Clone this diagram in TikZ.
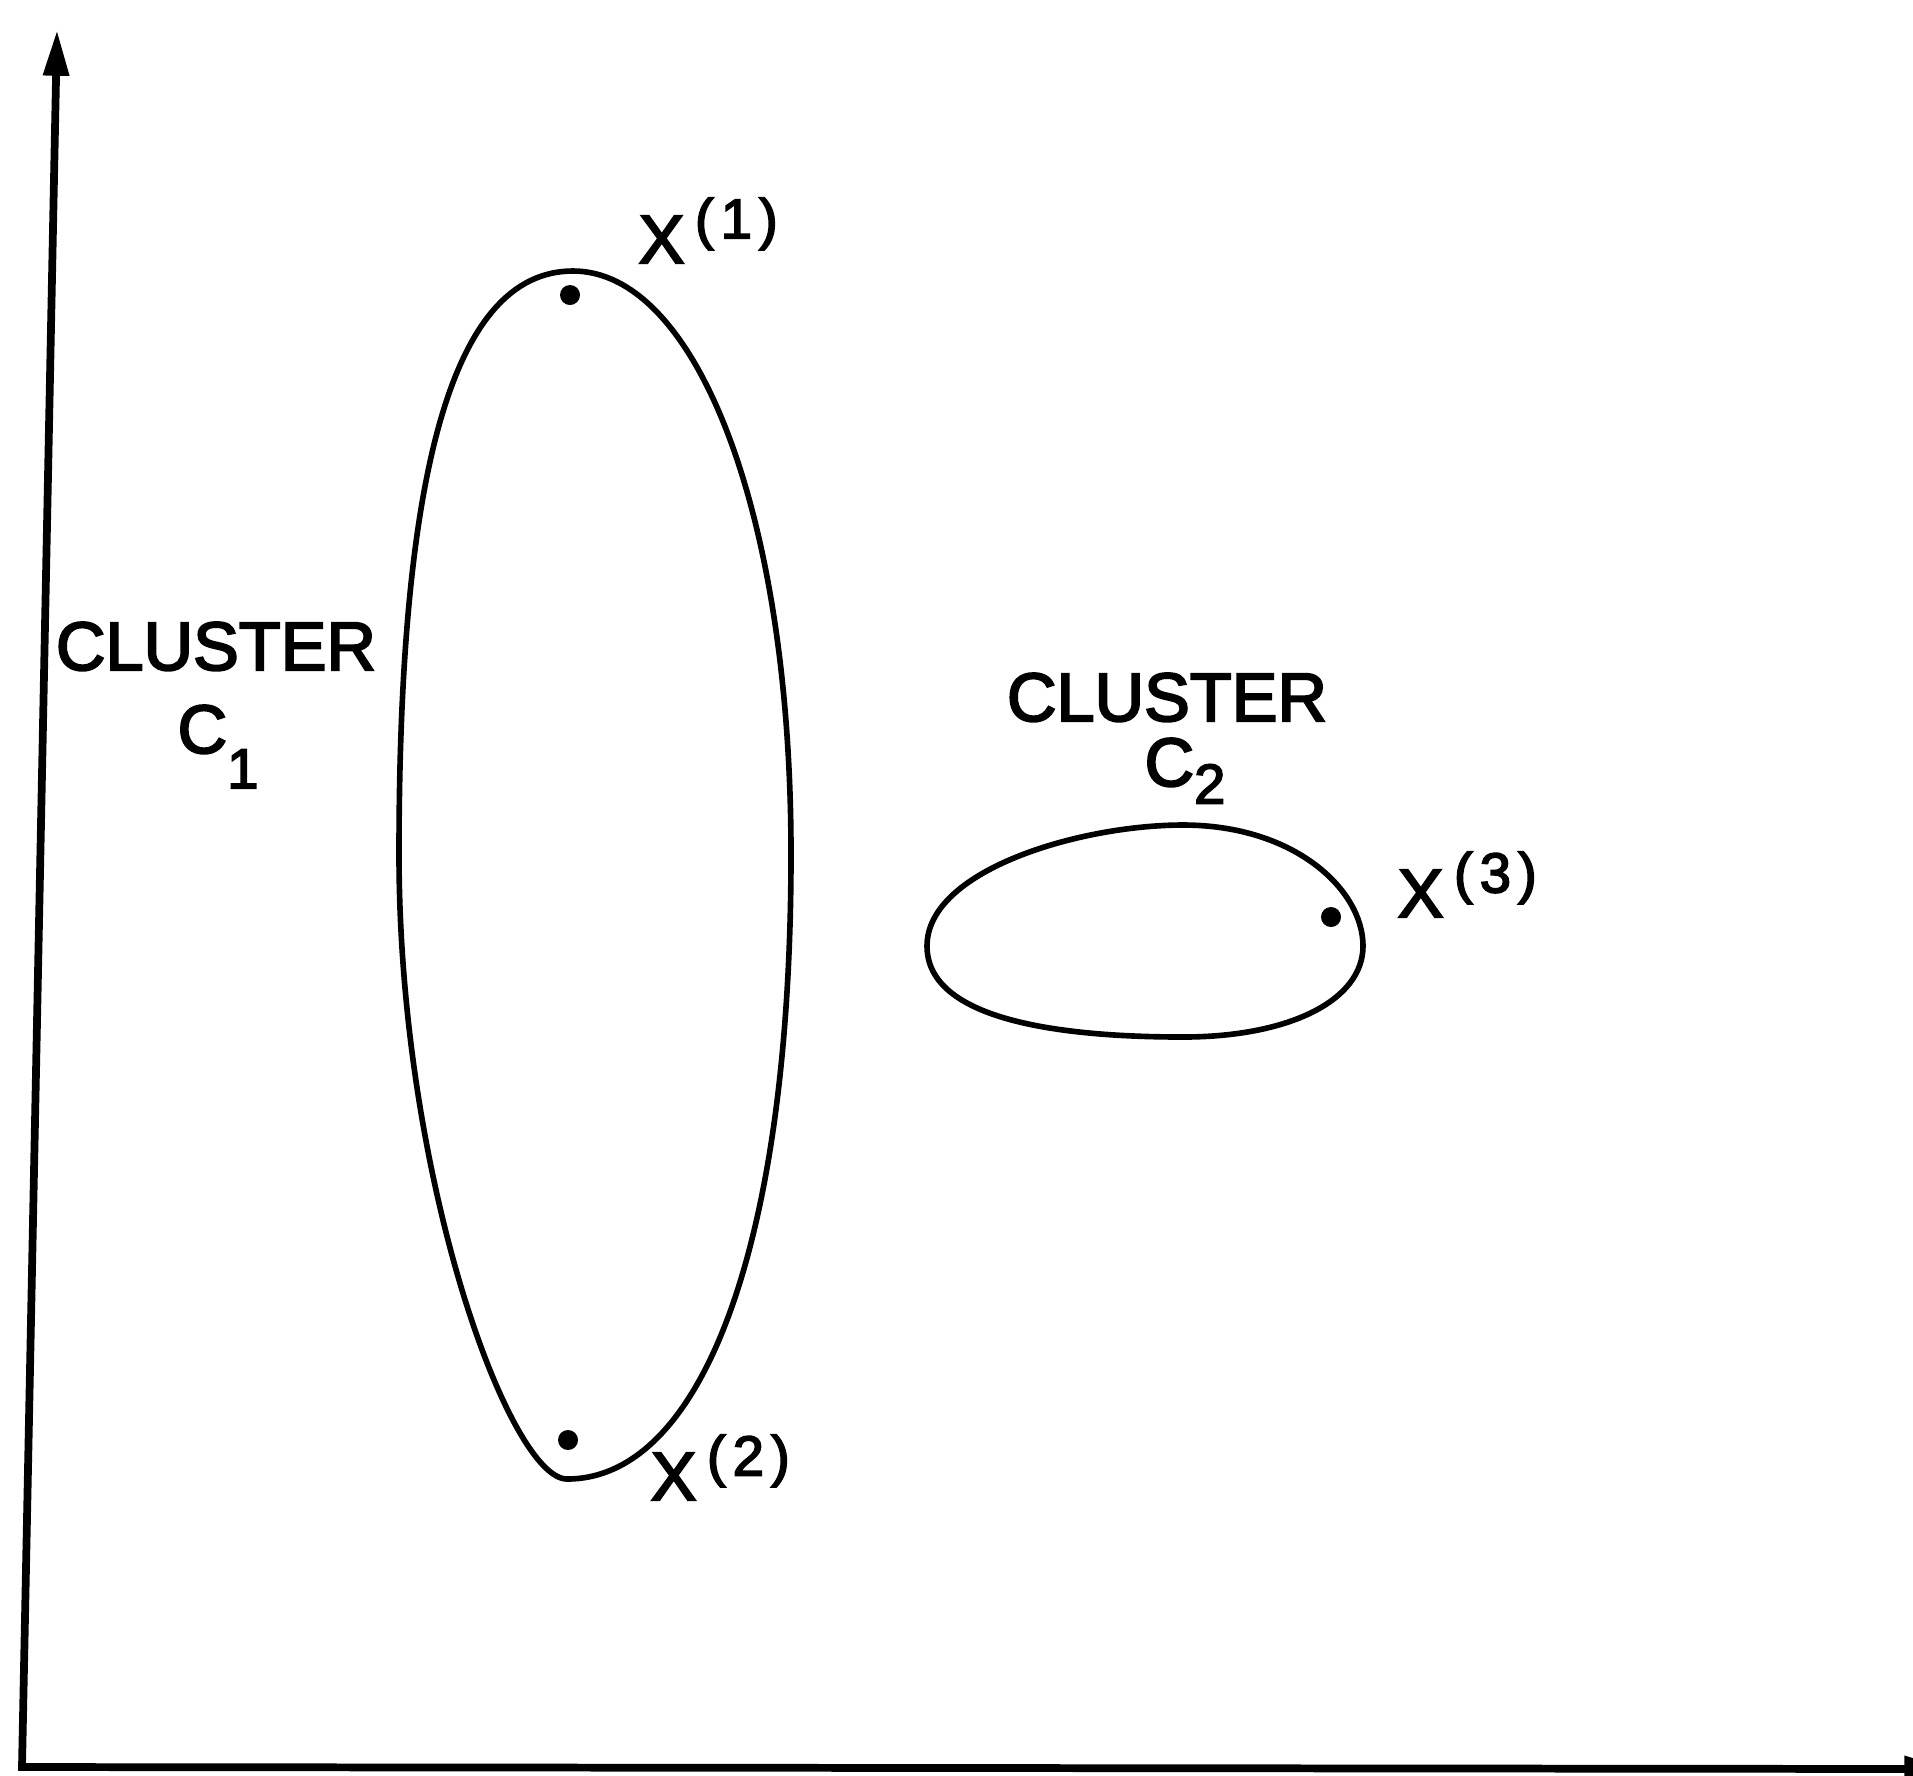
\documentclass[tikz,border=0pt]{standalone}
\usepackage{fontspec}
\setmainfont{Liberation Sans}[FakeBold=3]
\usepackage{tikz}
\usetikzlibrary{arrows.meta, positioning}

\newcommand{\ptlabel}[1]{X\hspace{3pt}\raisebox{7pt}{\fontsize{16}{16}\selectfont(\kern2pt#1\kern2pt)}}

\begin{document}
\begin{tikzpicture}[
    x=0.01cm, y=-0.01cm,
    axis/.style={draw=black, line width=2.2pt, line cap=rect, -{Triangle[length=13pt, width=7pt]}},
    blob/.style={draw=black, line width=1.6pt},
    pt/.style={circle, fill=black, inner sep=0pt, minimum size=0.2cm},
    lbl/.style={font=\fontsize{19.5}{23}\selectfont, inner sep=0pt}
]
    \useasboundingbox (0,0) rectangle (1913,1775);

    % Axes
    \coordinate (origin) at (22,1767);
    \coordinate (ytop) at (57,30);
    \coordinate (xend) at (1950,1769);
    \draw [axis] (origin) -- (ytop);
    \draw [axis] (origin) -- (xend);

    % Cluster C1
    \draw [blob] (573,271) .. controls (695,271) and (791,510) .. (791,854)
        .. controls (791,1250) and (700,1479) .. (567,1479)
        .. controls (510,1479) and (399,1180) .. (399,854)
        .. controls (399,480) and (450,271) .. (573,271) -- cycle;
    \node (clusterA) at (216,670) [lbl, anchor=base] {CLUSTER};
    \node (nameA) at (218,753) [lbl, anchor=base] {C\raisebox{-10pt}{\fontsize{16}{16}\selectfont 1}};

    % Cluster C2
    \draw [blob] (927,946) .. controls (927,870) and (1080,825) .. (1183,825)
        .. controls (1295,825) and (1363,890) .. (1363,946)
        .. controls (1363,1000) and (1290,1037) .. (1183,1037)
        .. controls (1060,1037) and (927,1020) .. (927,946) -- cycle;
    \node (clusterB) at (1167,721) [lbl, anchor=base] {CLUSTER};
    \node (nameB) at (1185,786) [lbl, anchor=base] {C\raisebox{-5pt}{\fontsize{16}{16}\selectfont 2}};

    % Points
    \node (x1) at (570,295) [pt] {};
    \node (x2) at (568,1440) [pt] {};
    \node (x3) at (1331,917) [pt] {};
    \node (lx1) at (638,263) [lbl, anchor=base west] {\ptlabel{1}};
    \node (lx2) at (650,1500) [lbl, anchor=base west] {\ptlabel{2}};
    \node (lx3) at (1397,917) [lbl, anchor=base west] {\ptlabel{3}};

\end{tikzpicture}
\end{document}
